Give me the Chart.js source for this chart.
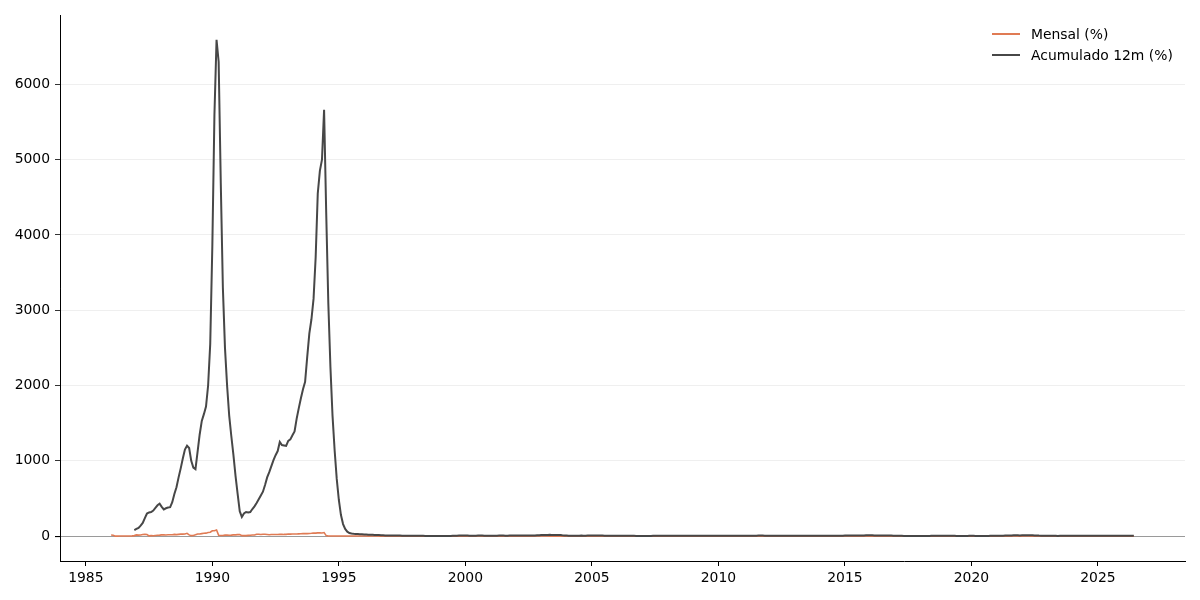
<!DOCTYPE html>
<html>
<head>
<meta charset="utf-8">
<title>Inflação mensal e acumulada em 12 meses</title>
<script src="https://cdn.jsdelivr.net/npm/chart.js@4.4.1/dist/chart.umd.min.js"></script>
<style>
  body { margin: 0; background: #fff; }
  #wrap { position: relative; width: 1200px; height: 600px; }
  #legend { position: absolute; left: 992px; top: 23px; font-family: "DejaVu Sans", sans-serif; font-size: 13.9px; color: #000; }
  .row { display: flex; align-items: center; height: 21px; }
  .swatch { width: 28px; margin-right: 11px; }
</style>
</head>
<body>
<div id="wrap">
  <canvas id="chart" width="1200" height="600"></canvas>
  <div id="legend"></div>
</div>
<script>
// first month of the series (Jan 1986), one value per month
const startYear = 1986;

const xTicks = [1985, 1990, 1995, 2000, 2005, 2010, 2015, 2020, 2025];
const yTicks = [0, 1000, 2000, 3000, 4000, 5000, 6000];

// variação mensal (%)
const mensal = [
  14.37, 12.72, -0.11, 0.78, 1.40, 1.27, 1.19, 1.68, 1.72, 1.90, 3.29, 7.27,
  16.82, 13.94, 14.40, 20.96, 23.21, 21.87, 3.08, 6.36, 5.68, 9.18, 12.84, 14.14,
  16.51, 17.96, 16.01, 19.28, 17.78, 19.53, 24.04, 20.66, 24.01, 27.25, 26.92, 28.79,
  37.49, 16.78, 6.82, 8.33, 17.92, 28.65, 27.75, 33.71, 37.56, 39.77, 47.82, 51.50,
  71.90, 71.68, 81.32, 11.33, 9.08, 9.02, 12.98, 12.93, 11.72, 14.16, 17.45, 16.46,
  19.91, 21.87, 7.25, 8.74, 6.52, 9.86, 12.83, 15.49, 16.19, 25.85, 25.76, 22.14,
  25.92, 24.48, 21.62, 18.54, 22.45, 21.42, 21.69, 22.08, 23.98, 26.07, 22.89, 23.70,
  28.73, 26.51, 27.81, 28.37, 28.34, 30.37, 31.01, 33.34, 35.63, 34.12, 36.00, 37.73,
  41.32, 40.57, 43.08, 42.86, 42.73, 47.43, 6.84, 1.86, 1.53, 2.62, 2.81, 1.71,
  1.70, 1.02, 1.55, 2.43, 2.67, 2.26, 2.36, 0.99, 0.99, 1.41, 1.47, 1.56,
  1.34, 1.03, 0.35, 1.26, 1.22, 1.19, 1.11, 0.44, 0.15, 0.30, 0.32, 0.47,
  1.18, 0.50, 0.51, 0.88, 0.41, 0.54, 0.22, -0.02, 0.06, 0.23, 0.17, 0.43,
  0.71, 0.46, 0.34, 0.24, 0.50, 0.02, -0.12, -0.51, -0.22, 0.02, -0.12, 0.33,
  0.70, 1.05, 1.10, 0.56, 0.30, 0.19, 1.09, 0.56, 0.31, 1.19, 0.95, 0.60,
  0.62, 0.13, 0.22, 0.42, 0.01, 0.23, 1.61, 1.31, 0.23, 0.14, 0.32, 0.59,
  0.57, 0.46, 0.38, 0.58, 0.41, 0.52, 1.33, 0.70, 0.28, 0.83, 0.71, 0.65,
  0.52, 0.36, 0.60, 0.80, 0.21, 0.42, 1.19, 0.65, 0.72, 1.31, 3.02, 2.10,
  2.25, 1.57, 1.23, 0.97, 0.61, -0.15, 0.20, 0.34, 0.78, 0.29, 0.34, 0.52,
  0.76, 0.61, 0.47, 0.37, 0.51, 0.71, 0.91, 0.69, 0.33, 0.44, 0.69, 0.86,
  0.58, 0.59, 0.61, 0.87, 0.49, -0.02, 0.25, 0.17, 0.35, 0.75, 0.55, 0.36,
  0.59, 0.41, 0.43, 0.21, 0.10, -0.21, 0.19, 0.05, 0.21, 0.33, 0.31, 0.48,
  0.44, 0.44, 0.37, 0.25, 0.28, 0.28, 0.24, 0.47, 0.18, 0.30, 0.38, 0.74,
  0.54, 0.49, 0.48, 0.55, 0.79, 0.74, 0.53, 0.28, 0.26, 0.45, 0.36, 0.28,
  0.48, 0.55, 0.20, 0.48, 0.47, 0.36, 0.24, 0.15, 0.24, 0.28, 0.41, 0.37,
  0.75, 0.78, 0.52, 0.57, 0.43, 0.00, 0.01, 0.04, 0.45, 0.75, 0.83, 0.63,
  0.83, 0.80, 0.79, 0.77, 0.47, 0.15, 0.16, 0.37, 0.53, 0.43, 0.52, 0.50,
  0.56, 0.45, 0.21, 0.64, 0.36, 0.08, 0.43, 0.41, 0.57, 0.59, 0.60, 0.79,
  0.86, 0.60, 0.47, 0.55, 0.37, 0.26, 0.03, 0.24, 0.35, 0.57, 0.54, 0.92,
  0.55, 0.69, 0.92, 0.67, 0.46, 0.40, 0.01, 0.25, 0.57, 0.42, 0.51, 0.78,
  1.24, 1.22, 1.32, 0.71, 0.74, 0.79, 0.62, 0.22, 0.54, 0.82, 1.01, 0.96,
  1.27, 0.90, 0.43, 0.61, 0.78, 0.35, 0.52, 0.44, 0.08, 0.26, 0.18, 0.30,
  0.38, 0.33, 0.25, 0.14, 0.31, -0.23, 0.24, 0.19, 0.16, 0.42, 0.28, 0.44,
  0.29, 0.32, 0.09, 0.22, 0.40, 1.26, 0.33, -0.09, 0.48, 0.45, -0.21, 0.15,
  0.32, 0.43, 0.75, 0.57, 0.13, 0.01, 0.19, 0.11, -0.04, 0.10, 0.51, 1.15,
  0.21, 0.25, 0.07, -0.31, -0.38, 0.26, 0.36, 0.24, 0.64, 0.86, 0.89, 1.35,
  0.25, 0.86, 0.93, 0.31, 0.83, 0.53, 0.96, 0.87, 1.16, 1.25, 0.95, 0.73,
  0.54, 1.01, 1.62, 1.06, 0.47, 0.67, -0.68, -0.36, -0.29, 0.59, 0.41, 0.62,
  0.53, 0.84, 0.71, 0.61, 0.23, -0.08, 0.12, 0.23, 0.26, 0.24, 0.28, 0.56,
  0.42, 0.83, 0.16, 0.38, 0.46, 0.21, 0.38, -0.02, 0.44, 0.56, 0.39, 0.52,
  0.16, 1.31, 0.56, 0.43, 0.26, 0.24, 0.26, -0.11, 0.48, 0.09, 0.18, 0.33,
  0.33, 0.40, 0.35, 0.30, 0.25, 0.28
];

// acumulado em 12 meses (%), vazio nos primeiros 11 meses
const acumulado12m = [
  null, null, null, null, null, null, null, null, null, null, null, 80,
  95, 110, 140, 175, 240, 300, 315, 320, 340, 375, 410, 430,
  390, 355, 370, 380, 385, 450, 560, 650, 780, 900, 1030, 1150,
  1200, 1170, 1000, 910, 890, 1120, 1350, 1530, 1620, 1720, 2000, 2550,
  3850, 5600, 6590, 6300, 4700, 3300, 2500, 2000, 1600, 1330, 1080, 800,
  560, 330, 255, 300, 320, 315, 320, 360, 395, 440, 490, 540,
  590, 680, 780, 850, 930, 1010, 1075, 1130, 1250, 1210, 1205, 1200,
  1265, 1285, 1340, 1390, 1560, 1700, 1830, 1950, 2050, 2380, 2690, 2880,
  3150, 3700, 4550, 4850, 5000, 5660, 4300, 3100, 2250, 1600, 1140, 760,
  480, 280, 160, 95, 60, 42, 35, 32, 30, 28, 26, 24,
  22, 21, 20, 19, 18, 16, 15, 14, 12, 11, 10, 9.6,
  9.4, 8.9, 9.1, 8.7, 7.9, 7.2, 6.4, 5.8, 5.7, 5.6, 5.5, 5.2,
  4.7, 4.7, 4.5, 3.9, 4.0, 3.4, 3.1, 2.6, 2.3, 2.1, 1.8, 1.7,
  1.6, 2.2, 3.0, 3.3, 3.1, 3.3, 4.6, 5.7, 6.2, 7.4, 8.5, 8.9,
  8.9, 7.9, 6.9, 6.8, 6.5, 6.5, 7.1, 7.9, 7.8, 6.7, 6.0, 6.0,
  5.9, 6.3, 6.4, 6.6, 7.0, 7.3, 7.0, 6.4, 6.5, 7.2, 7.6, 7.7,
  7.6, 7.5, 7.8, 8.0, 7.8, 7.7, 7.5, 7.5, 7.9, 8.4, 10.9, 12.5,
  14.5, 15.9, 16.6, 16.8, 17.2, 16.6, 15.4, 15.1, 15.1, 14.0, 11.0, 9.3,
  7.7, 6.7, 5.9, 5.3, 5.2, 6.1, 6.8, 7.2, 6.7, 6.9, 7.2, 7.6,
  7.4, 7.4, 7.5, 8.1, 8.1, 7.3, 6.6, 6.0, 6.0, 6.4, 6.2, 5.7,
  5.7, 5.5, 5.3, 4.6, 4.2, 4.0, 4.0, 3.8, 3.7, 3.3, 3.0, 3.1,
  3.0, 3.0, 3.0, 3.0, 3.2, 3.7, 3.7, 4.2, 4.2, 4.1, 4.2, 4.5,
  4.6, 4.6, 4.7, 5.0, 5.6, 6.1, 6.4, 6.2, 6.3, 6.4, 6.4, 5.9,
  5.8, 5.9, 5.6, 5.5, 5.2, 4.8, 4.5, 4.4, 4.3, 4.2, 4.2, 4.3,
  4.6, 4.8, 5.2, 5.3, 5.2, 4.8, 4.6, 4.5, 4.7, 5.2, 5.6, 5.9,
  6.0, 6.0, 6.3, 6.5, 6.6, 6.7, 6.9, 7.2, 7.3, 7.0, 6.6, 6.5,
  6.2, 5.9, 5.2, 5.1, 5.0, 4.9, 5.2, 5.2, 5.3, 5.5, 5.5, 5.8,
  6.2, 6.3, 6.6, 6.5, 6.5, 6.7, 6.3, 6.1, 5.9, 5.8, 5.8, 5.9,
  5.6, 5.7, 6.2, 6.3, 6.4, 6.5, 6.5, 6.5, 6.8, 6.6, 6.6, 6.4,
  7.1, 7.7, 8.1, 8.2, 8.5, 8.9, 9.6, 9.5, 9.5, 9.9, 10.5, 10.7,
  10.7, 10.4, 9.4, 9.3, 9.3, 8.8, 8.7, 9.0, 8.5, 7.9, 7.0, 6.3,
  5.4, 4.8, 4.6, 4.1, 3.6, 3.0, 2.7, 2.5, 2.5, 2.7, 2.8, 3.0,
  2.9, 2.8, 2.7, 2.8, 2.9, 4.4, 4.5, 4.2, 4.5, 4.6, 4.1, 3.8,
  3.8, 3.9, 4.6, 4.9, 4.7, 3.4, 3.2, 3.4, 2.9, 2.5, 3.3, 4.3,
  4.2, 4.0, 3.3, 2.4, 1.9, 2.1, 2.3, 2.4, 3.1, 3.9, 4.3, 4.5,
  4.6, 5.2, 6.1, 6.8, 8.1, 8.4, 9.0, 9.7, 10.3, 10.7, 10.7, 10.1,
  10.4, 10.5, 11.3, 12.1, 11.7, 11.9, 10.1, 8.7, 7.2, 6.5, 5.9, 5.8,
  5.8, 5.6, 4.7, 4.2, 3.9, 3.2, 4.0, 4.6, 5.2, 4.8, 4.7, 4.6,
  4.5, 4.5, 3.9, 3.7, 3.9, 4.2, 4.5, 4.2, 4.4, 4.8, 4.9, 4.8,
  4.6, 5.1, 5.5, 5.5, 5.3, 5.4, 5.2, 5.1, 5.2, 4.7, 4.5, 4.3,
  4.4, 4.0, 3.9, 3.8, 3.8, 3.9
];

const seriesLabels = ["Mensal (%)", "Acumulado 12m (%)"];
const seriesColors = ["#e07b54", "#474747"];
const seriesWidths = [1.6, 2];

function toPoints(values) {
  return values.map((v, i) => ({ x: startYear + i / 12, y: v }));
}

const tickFont = { family: "DejaVu Sans", size: 13.9 };

const ctx = document.getElementById("chart").getContext("2d");
new Chart(ctx, {
  type: "line",
  data: {
    datasets: [
      {
        label: seriesLabels[0],
        data: toPoints(mensal),
        borderColor: seriesColors[0],
        borderWidth: seriesWidths[0],
        pointRadius: 0,
        order: 1
      },
      {
        label: seriesLabels[1],
        data: toPoints(acumulado12m),
        borderColor: seriesColors[1],
        borderWidth: seriesWidths[1],
        pointRadius: 0,
        spanGaps: false,
        order: 0
      }
    ]
  },
  options: {
    responsive: false,
    animation: false,
    layout: { padding: { top: 15, right: 15, left: 0, bottom: 0 } },
    plugins: {
      legend: { display: false },
      tooltip: { enabled: false }
    },
    scales: {
      x: {
        type: "linear",
        min: 1983.98,
        max: 2028.44,
        afterBuildTicks: (scale) => { scale.ticks = xTicks.map(v => ({ value: v })); },
        afterFit: (scale) => { scale.height = 39; },
        grid: { drawOnChartArea: false, color: "#000", tickLength: 5 },
        border: { display: true, color: "#000", width: 1 },
        ticks: { color: "#000", font: tickFont, padding: 4, maxRotation: 0, callback: v => String(v) }
      },
      y: {
        min: -330,
        max: 6920,
        afterBuildTicks: (scale) => { scale.ticks = yTicks.map(v => ({ value: v })); },
        afterFit: (scale) => { scale.width = 60; },
        grid: {
          // zero line drawn darker, like an axhline
          color: (c) => (c.tick && c.tick.value === 0 ? "#9a9a9a" : "#ebebeb"),
          lineWidth: (c) => (c.tick && c.tick.value === 0 ? 1.1 : 0.8),
          tickColor: "#000",
          tickLength: 5
        },
        border: { display: true, color: "#000", width: 1 },
        ticks: { color: "#000", font: tickFont, padding: 5, callback: v => String(v) }
      }
    }
  }
});

// legend in the upper right corner, no frame
const legend = document.getElementById("legend");
seriesLabels.forEach((label, i) => {
  const row = document.createElement("div");
  row.className = "row";
  const sw = document.createElement("div");
  sw.className = "swatch";
  sw.style.height = "2px";
  sw.style.background = seriesColors[i];
  const txt = document.createElement("span");
  txt.textContent = label;
  row.appendChild(sw);
  row.appendChild(txt);
  legend.appendChild(row);
});
</script>
</body>
</html>
